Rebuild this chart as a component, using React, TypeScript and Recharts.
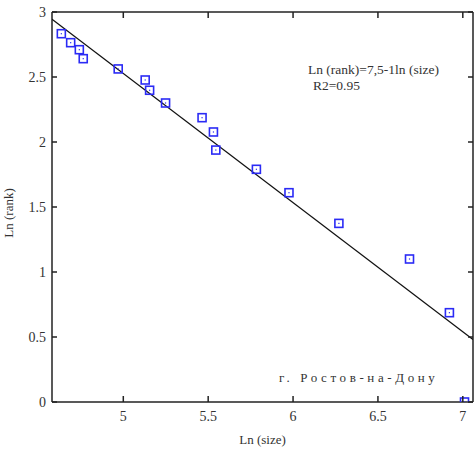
import { ComposedChart, Scatter, XAxis, YAxis, Label } from 'recharts';

// observed ln(size) / ln(rank) pairs
const lnSize = [
  4.635, 4.69, 4.741, 4.764, 4.97, 5.129, 5.155, 5.249, 5.464, 5.531, 5.545,
  5.784, 5.976, 6.27, 6.686, 6.921, 7.01,
];
const lnRank = [
  2.833, 2.764, 2.71, 2.641, 2.562, 2.477, 2.398, 2.3, 2.187, 2.077, 1.938,
  1.79, 1.61, 1.374, 1.1, 0.687, 0,
];

// regression line endpoints
const fitX = [4.58, 7.06];
const fitY = [2.945, 0.48];

const xTicks = [5, 5.5, 6, 6.5, 7];
const yTicks = [0, 0.5, 1, 1.5, 2, 2.5, 3];

const points = lnSize.map((x, i) => ({ x, y: lnRank[i] }));
const fitLine = fitX.map((x, i) => ({ x, y: fitY[i] }));

const FONT = '"Liberation Serif", "DejaVu Serif", serif';
const AXIS = '#222';
const TXT = '#333';

function SquareDot(props: any) {
  const { cx, cy } = props;
  if (cx == null || cy == null) return null;
  return (
    <g>
      <rect x={cx - 4} y={cy - 4} width={8} height={8} fill="none" stroke="#2b2bf5" strokeWidth={1.6} />
      <rect x={cx - 0.6} y={cy - 0.6} width={1.2} height={1.2} fill="#2b2bf5" />
    </g>
  );
}

// ticks point into the plot, labels stay outside
function BottomTick(props: any) {
  const { x, y, payload } = props;
  return (
    <g>
      <line x1={x} y1={y} x2={x} y2={y - 6} stroke={AXIS} strokeWidth={1.5} />
      <text x={x} y={y + 19} textAnchor="middle" fontFamily={FONT} fontSize={14} fill={TXT}>
        {payload.value}
      </text>
    </g>
  );
}

function TopTick(props: any) {
  const { x, y } = props;
  return <line x1={x} y1={y} x2={x} y2={y + 6} stroke={AXIS} strokeWidth={1.5} />;
}

function LeftTick(props: any) {
  const { x, y, payload } = props;
  return (
    <g>
      <line x1={x} y1={y} x2={x + 5} y2={y} stroke={AXIS} strokeWidth={1.5} />
      <text x={x - 6} y={y + 5} textAnchor="end" fontFamily={FONT} fontSize={14} fill={TXT}>
        {payload.value}
      </text>
    </g>
  );
}

function RightTick(props: any) {
  const { x, y } = props;
  return <line x1={x} y1={y} x2={x - 5} y2={y} stroke={AXIS} strokeWidth={1.5} />;
}

export default function App() {
  return (
    <div style={{ position: 'absolute', left: 0, top: 0, background: '#fff' }}>
      <ComposedChart
        width={474}
        height={450}
        margin={{ top: 11, right: 0, bottom: 0, left: 0 }}
      >
        <XAxis
          xAxisId="bottom"
          type="number"
          dataKey="x"
          domain={[4.58, 7.06]}
          ticks={xTicks}
          height={48}
          stroke={AXIS}
          strokeWidth={1.5}
          tickLine={false}
          tickSize={0}
          tickMargin={0}
          tick={BottomTick}
          allowDataOverflow
        >
          <Label
            value="Ln (size)"
            position="insideBottom"
            offset={6}
            style={{ fill: TXT, fontSize: 13, fontFamily: FONT }}
          />
        </XAxis>
        <XAxis
          xAxisId="top"
          orientation="top"
          type="number"
          dataKey="x"
          domain={[4.58, 7.06]}
          ticks={xTicks}
          height={1}
          stroke={AXIS}
          strokeWidth={1.5}
          tickLine={false}
          tickSize={0}
          tickMargin={0}
          tick={TopTick}
          allowDataOverflow
        />
        <YAxis
          yAxisId="left"
          type="number"
          dataKey="y"
          domain={[0, 3]}
          ticks={yTicks}
          width={52}
          stroke={AXIS}
          strokeWidth={1.5}
          tickLine={false}
          tickSize={0}
          tickMargin={0}
          tick={LeftTick}
          allowDataOverflow
        >
          <Label
            value="Ln (rank)"
            angle={-90}
            position="insideLeft"
            offset={8}
            dy={6}
            style={{ fill: TXT, fontSize: 13, fontFamily: FONT, textAnchor: 'middle' }}
          />
        </YAxis>
        <YAxis
          yAxisId="right"
          orientation="right"
          type="number"
          dataKey="y"
          domain={[0, 3]}
          ticks={yTicks}
          width={1}
          stroke={AXIS}
          strokeWidth={1.5}
          tickLine={false}
          tickSize={0}
          tickMargin={0}
          tick={RightTick}
          allowDataOverflow
        />
        <Scatter
          xAxisId="bottom"
          yAxisId="left"
          data={fitLine}
          line={{ stroke: '#111', strokeWidth: 1.3 }}
          shape={() => null}
          isAnimationActive={false}
        />
        <Scatter
          xAxisId="bottom"
          yAxisId="left"
          data={points}
          shape={SquareDot}
          isAnimationActive={false}
        />
        <text x={308} y={74} fontFamily={FONT} fontSize={13.5} fill={TXT}>
          Ln (rank)=7,5-1ln (size)
        </text>
        <text x={313} y={90} fontFamily={FONT} fontSize={13.5} fill={TXT}>
          R2=0.95
        </text>
        <text x={279} y={382} fontFamily={FONT} fontSize={13} fill={TXT} letterSpacing={3.6}>
          г. Ростов-на-Дону
        </text>
      </ComposedChart>
    </div>
  );
}
